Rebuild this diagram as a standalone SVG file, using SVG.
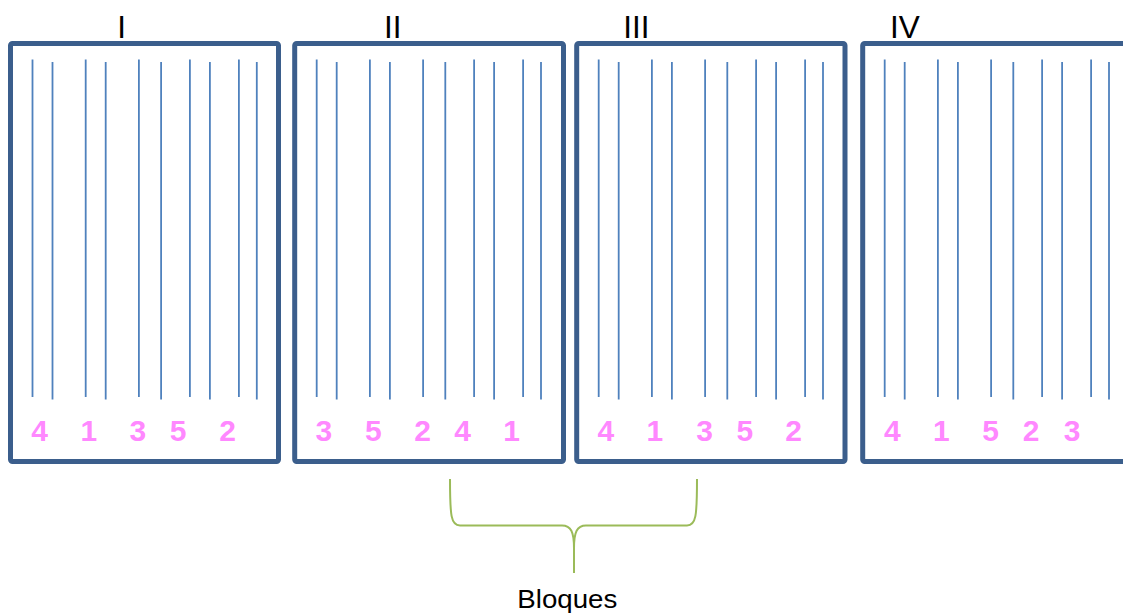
<svg xmlns="http://www.w3.org/2000/svg" width="1123" height="613" viewBox="0 0 1123 613">
<defs>
<style>
.box{fill:#fff;stroke:#3b5e8c;stroke-width:5}
.ln{stroke:#4f81bd;stroke-width:1.8}
.num{font-family:"Liberation Sans",Arial,sans-serif;font-weight:bold;font-size:30px;fill:#ff88ff;text-anchor:middle}
.rom{font-family:"Liberation Sans",Arial,sans-serif;font-size:31.5px;fill:#000;text-anchor:middle}
.lbl{font-family:"Liberation Sans",Arial,sans-serif;font-size:25px;fill:#000;text-anchor:middle}
.brace{fill:none;stroke:#9bbb59;stroke-width:2}
</style>
<g id="rows">
<line class="ln" x1="22" y1="59.5" x2="22" y2="397"/>
<line class="ln" x1="42" y1="62" x2="42" y2="399.5"/>
<line class="ln" x1="75.2" y1="59.5" x2="75.2" y2="397"/>
<line class="ln" x1="95.2" y1="62" x2="95.2" y2="399.5"/>
<line class="ln" x1="128.4" y1="59.5" x2="128.4" y2="397"/>
<line class="ln" x1="150.6" y1="62" x2="150.6" y2="399.5"/>
<line class="ln" x1="179.4" y1="59.5" x2="179.4" y2="397"/>
<line class="ln" x1="199.4" y1="62" x2="199.4" y2="399.5"/>
<line class="ln" x1="228.4" y1="59.5" x2="228.4" y2="397"/>
<line class="ln" x1="246.3" y1="62" x2="246.3" y2="399.5"/>
</g>
</defs>
<g id="block-I">
<rect class="box" x="10.5" y="43.5" width="268" height="418" rx="2"/>
<use href="#rows" x="10.5"/>
<text class="num" x="39.7" y="441">4</text>
<text class="num" x="88.8" y="441">1</text>
<text class="num" x="137.8" y="441">3</text>
<text class="num" x="178.2" y="441">5</text>
<text class="num" x="227.7" y="441">2</text>
</g>
<g id="block-II">
<rect class="box" x="294.7" y="43.5" width="268.8" height="418" rx="2"/>
<use href="#rows" x="294.7"/>
<text class="num" x="323.8" y="441">3</text>
<text class="num" x="373.3" y="441">5</text>
<text class="num" x="422.5" y="441">2</text>
<text class="num" x="462.5" y="441">4</text>
<text class="num" x="511.5" y="441">1</text>
</g>
<g id="block-III">
<rect class="box" x="576.7" y="43.5" width="268.3" height="418" rx="2"/>
<use href="#rows" x="576.7"/>
<text class="num" x="605.8" y="441">4</text>
<text class="num" x="654.8" y="441">1</text>
<text class="num" x="704.5" y="441">3</text>
<text class="num" x="744.8" y="441">5</text>
<text class="num" x="793.7" y="441">2</text>
</g>
<g id="block-IV">
<rect class="box" x="862.7" y="43.5" width="268" height="418" rx="2"/>
<use href="#rows" x="862.7"/>
<text class="num" x="892.3" y="441">4</text>
<text class="num" x="941.3" y="441">1</text>
<text class="num" x="990.7" y="441">5</text>
<text class="num" x="1031" y="441">2</text>
<text class="num" x="1072.2" y="441">3</text>
</g>
<g id="labels">
<text class="rom" x="121.7" y="37.7">I</text>
<text class="rom" x="392.7" y="37.7">II</text>
<text class="rom" x="636.5" y="37.7">III</text>
<text class="rom" x="905" y="37.7">IV</text>
</g>
<g id="connectors">
<path class="brace" d="M450,479 C450,516 451,525.5 460,525.5 L562,525.5 C571,525.5 574,532 574,548 L574,573"/>
<path class="brace" d="M697,479 C697,516 696,525.5 687,525.5 L586,525.5 C577,525.5 574,532 574,548"/>
</g>
<g id="bloques">
<text class="lbl" x="567.3" y="608.3" textLength="100" lengthAdjust="spacingAndGlyphs">Bloques</text>
</g>
</svg>
